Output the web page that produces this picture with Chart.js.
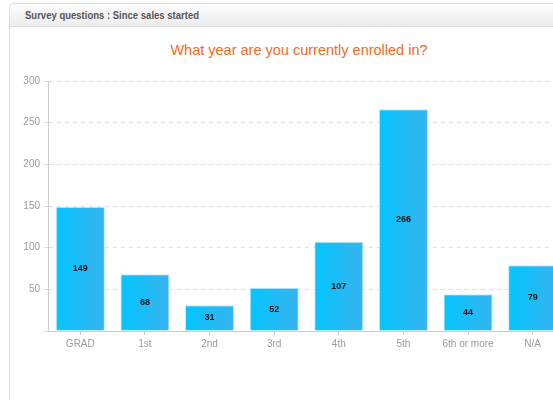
<!DOCTYPE html>
<html>
<head>
<meta charset="utf-8">
<script src="https://cdn.jsdelivr.net/npm/chart.js@4/dist/chart.umd.min.js"></script>
<style>
  html, body { margin: 0; padding: 0; background: #fff; overflow: hidden; width: 553px; height: 400px; }
  .panel { position: absolute; left: 9px; top: 3px; width: 640px; height: 420px; border: 1px solid #dcdcdc; border-radius: 4px; background: #fff; }
  .panel-head { height: 22px; border-bottom: 1px solid #dcdcdc; background: linear-gradient(#fcfcfc, #ececec); border-radius: 4px 4px 0 0;
    font: bold 11px Arial, "Liberation Sans", sans-serif; color: #555; line-height: 23px; padding-left: 15px; }
  .panel-head span { display: inline-block; transform: scaleX(0.865); transform-origin: left center; white-space: nowrap; }
  .chart-title { position: absolute; left: 0; width: 598px; top: 40px; text-align: center;
    font: 14.5px Arial, "Liberation Sans", sans-serif; color: #f26b1d; line-height: 20px; }
  #wrap { position: absolute; left: 0; top: 27px; width: 600px; height: 373px; }
</style>
</head>
<body>
<div class="panel"><div class="panel-head"><span>Survey questions : Since sales started</span></div></div>
<div class="chart-title">What year are you currently enrolled in?</div>
<div id="wrap"><canvas id="surveyChart"></canvas></div>
<script>
const categories = ['GRAD', '1st', '2nd', '3rd', '4th', '5th', '6th or more', 'N/A'];
const responses = [149, 68, 31, 52, 107, 266, 44, 79];
const yTicks = [0, 50, 100, 150, 200, 250, 300];

const fontFamily = 'Arial, "Liberation Sans", sans-serif';

// cyan bar fill, lighter on the left
function barFill(context) {
    const chart = context.chart;
    const xScale = chart.scales.x;
    if (!xScale || !chart.chartArea) return '#1ec0fb';
    const center = xScale.getPixelForValue(context.dataIndex);
    const half = xScale.width / categories.length * 0.76 / 2;
    const grad = chart.ctx.createLinearGradient(center - half, 0, center + half, 0);
    grad.addColorStop(0, '#03c5ff');
    grad.addColorStop(1, '#38b3ef');
    return grad;
}

//value labels in the middle of each bar
const valueLabels = {
    id: 'valueLabels',
    afterDatasetsDraw(chart) {
        const ctx = chart.ctx;
        const meta = chart.getDatasetMeta(0);
        ctx.save();
        ctx.font = 'bold 9px ' + fontFamily;
        ctx.fillStyle = '#111';
        ctx.textAlign = 'center';
        ctx.textBaseline = 'middle';
        meta.data.forEach((bar, i) => {
            ctx.fillText(responses[i], bar.x, (bar.y + bar.base) / 2);
        });
        ctx.restore();
    }
};

const surveyCtx = document.getElementById('surveyChart').getContext('2d');
let surveyChart = new Chart(surveyCtx, {
    type: 'bar',
    data: {
        labels: categories,
        datasets: [{
            label: 'Responses',
            data: responses,
            backgroundColor: barFill,
            borderColor: '#c4ecfc',
            borderWidth: 1,
            barPercentage: 0.76,
            categoryPercentage: 1
        }]
    },
    options: {
        responsive: true,
        maintainAspectRatio: false,
        animation: false,
        layout: { padding: { left: 18, right: 35, top: 54, bottom: 47 } },
        plugins: {
            legend: { display: false },
            tooltip: { enabled: false }
        },
        scales: {
            x: {
                grid: { display: true, drawOnChartArea: false, drawTicks: true, offset: false, tickLength: 4, tickColor: '#cccccc' },
                border: { display: true, color: '#cccccc' },
                ticks: { color: '#999', font: { family: fontFamily, size: 10 }, padding: 3, maxRotation: 0, autoSkip: false }
            },
            y: {
                min: yTicks[0],
                max: yTicks[yTicks.length - 1],
                afterFit(scale) { scale.width = 30; },
                afterBuildTicks(scale) { scale.ticks = yTicks.map(v => ({ value: v })); },
                grid: { color: '#dedede', tickLength: 4, tickColor: '#dedede' },
                border: { display: true, color: '#cccccc', dash: [4, 4] },
                ticks: {
                    color: '#999',
                    font: { family: fontFamily, size: 10 },
                    padding: 4,
                    callback: (v) => v === 0 ? '' : v
                }
            }
        }
    },
    plugins: [valueLabels]
});
</script>
</body>
</html>
